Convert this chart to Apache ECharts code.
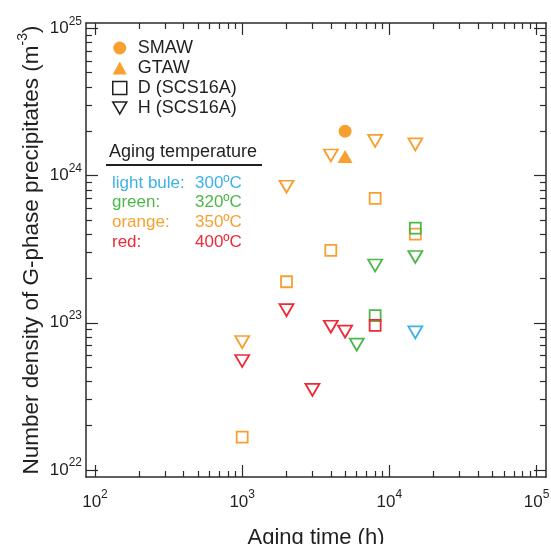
<!DOCTYPE html>
<html>
<head>
<meta charset="utf-8">
<script src="https://cdn.jsdelivr.net/npm/echarts@6/dist/echarts.min.js"></script>
<style>
  html, body { margin: 0; padding: 0; background: #fff; }
  #chart { width: 551px; height: 544px; }
</style>
</head>
<body>
<div id="chart"></div>
<script>
// 坐标范围（边框略超出整十年）
const xRange = [86.9, 115800]
const yRange = [8.96e21, 1.088e25]

// 主刻度
const xDecades = [1e2, 1e3, 1e4, 1e5]
const yDecades = [1e22, 1e23, 1e24, 1e25]

// 时效温度 -> 颜色
const tempColors = { 300: '#3eb1e8', 320: '#4cb848', 350: '#f7a030', 400: '#ee2a36' }
const tempNames = ['light bule:', 'green:', 'orange:', 'red:']
const tempValues = ['300ºC', '320ºC', '350ºC', '400ºC']
const tempKeys = [300, 320, 350, 400]

// 焊缝
const smawTime = [5000]
const smawDensity = [2.0e24]
const gtawTime = [5000]
const gtawDensity = [1.35e24]

// D (SCS16A)
const dTime = [1000, 2000, 4000, 8000, 15000, 15000, 8000, 8000]
const dDensity = [1.67e22, 1.9e23, 3.1e23, 7.0e23, 4.0e23, 4.4e23, 1.12e23, 9.6e22]
const dTemp = [350, 350, 350, 350, 350, 320, 320, 400]

// H (SCS16A)
const hTime = [1000, 2000, 4000, 8000, 15000, 6000, 8000, 15000, 1000, 2000, 3000, 4000, 5000, 15000]
const hDensity = [7.4e22, 8.4e23, 1.37e24, 1.72e24, 1.63e24, 7.1e22, 2.45e23, 2.8e23, 5.5e22, 1.22e23, 3.5e22, 9.4e22, 8.7e22, 8.6e22]
const hTemp = [350, 350, 350, 350, 350, 320, 320, 320, 400, 400, 400, 400, 400, 300]

const fontFamily = '"Liberation Sans", Arial, Helvetica, sans-serif'
const textColor = '#231f20'
const frameColor = '#2b2b2b'

// 次刻度 2..9（贴边的不画）
const minorTicks = (range) => {
  const out = []
  const e0 = Math.floor(Math.log10(range[0]))
  const e1 = Math.ceil(Math.log10(range[1]))
  for (let e = e0; e <= e1; e++) {
    for (let k = 2; k <= 9; k++) {
      const v = k * Math.pow(10, e)
      if (v > range[0] * 1.06 && v < range[1] / 1.06) out.push(v)
    }
  }
  return out
}

const expLabel = (v) => '{b|10}{s|' + Math.round(Math.log10(v)) + '}'
const labelRich = {
  b: { fontSize: 17, color: textColor, fontFamily },
  s: { fontSize: 12, color: textColor, fontFamily, padding: [0, 0, 14, 0] }
}

const makeAxis = (range, position, ticks, len, showLine, extra) => Object.assign({
  type: 'log',
  logBase: 10,
  min: range[0],
  max: range[1],
  position,
  axisLine: { show: showLine, onZero: false, lineStyle: { color: frameColor, width: 1.5 } },
  axisTick: { show: true, inside: true, length: len, customValues: ticks, lineStyle: { color: frameColor, width: 1.2 } },
  axisLabel: { show: false },
  splitLine: { show: false },
  minorTick: { show: false },
  nameMoveOverlap: false
}, extra || {})

const hollow = (times, dens, temps) => times.map((t, i) => ({
  value: [t, dens[i]],
  itemStyle: { borderColor: tempColors[temps[i]] }
}))

const chart = echarts.init(document.getElementById('chart'))

const option = {
  animation: false,
  grid: { left: 86, top: 23, width: 460, height: 454, containLabel: false, outerBoundsMode: 'none' },
  xAxis: [
    makeAxis(xRange, 'bottom', xDecades, 12, true, {
      name: 'Aging time (h)',
      nameLocation: 'middle',
      nameGap: 50,
      nameTextStyle: { fontSize: 22, color: textColor, fontFamily },
      axisLabel: { show: true, customValues: xDecades, margin: 12, formatter: expLabel, rich: labelRich }
    }),
    makeAxis(xRange, 'bottom', minorTicks(xRange), 6, false),
    makeAxis(xRange, 'top', xDecades, 12, true),
    makeAxis(xRange, 'top', minorTicks(xRange), 6, false)
  ],
  yAxis: [
    makeAxis(yRange, 'left', yDecades, 12, true, {
      name: '{t|Number density of G-phase precipitates (m}{s|-3}{t|)}',
      nameLocation: 'middle',
      nameGap: 39,
      nameTextStyle: {
        rich: {
          t: { fontSize: 22.5, color: textColor, fontFamily },
          s: { fontSize: 14, color: textColor, fontFamily, padding: [0, 0, 17, 0] }
        }
      },
      axisLabel: { show: true, customValues: yDecades, margin: 4, formatter: expLabel, rich: labelRich }
    }),
    makeAxis(yRange, 'left', minorTicks(yRange), 6, false),
    makeAxis(yRange, 'right', yDecades, 12, true),
    makeAxis(yRange, 'right', minorTicks(yRange), 6, false)
  ],
  legend: {
    left: 112,
    top: 39,
    padding: 0,
    orient: 'vertical',
    itemWidth: 14,
    itemHeight: 13,
    itemGap: 2,
    selectedMode: false,
    textStyle: { fontSize: 18, color: textColor, fontFamily, padding: [0, 0, 0, 6] },
    data: [
      { name: 'SMAW', icon: 'circle', itemStyle: { color: tempColors[350], borderWidth: 0, opacity: 1 } },
      { name: 'GTAW', icon: 'triangle', itemStyle: { color: tempColors[350], borderWidth: 0, opacity: 1 } },
      { name: 'D (SCS16A)', icon: 'rect', itemStyle: { color: 'transparent', borderColor: textColor, borderWidth: 1.5, opacity: 1 } },
      { name: 'H (SCS16A)', icon: 'path://M0,0L14,0L7,12Z', itemStyle: { color: 'transparent', borderColor: textColor, borderWidth: 1.5, opacity: 1 } }
    ]
  },
  graphic: [
    { type: 'text', x: 109, y: 152, style: { text: 'Aging temperature', fontSize: 18, fontFamily, fill: textColor, verticalAlign: 'middle' } },
    { type: 'line', shape: { x1: 106, y1: 165, x2: 262, y2: 165 }, style: { stroke: textColor, lineWidth: 2 } },
    ...tempNames.map((n, i) => ({
      type: 'text', x: 112, y: 183 + i * 19.7,
      style: { text: n, fontSize: 17, fontFamily, fill: tempColors[tempKeys[i]], verticalAlign: 'middle' }
    })),
    ...tempValues.map((n, i) => ({
      type: 'text', x: 195, y: 183 + i * 19.7,
      style: { text: n, fontSize: 17, fontFamily, fill: tempColors[tempKeys[i]], verticalAlign: 'middle' }
    }))
  ],
  series: [
    {
      name: 'SMAW',
      type: 'scatter',
      symbol: 'circle',
      symbolSize: 13,
      itemStyle: { color: tempColors[350], opacity: 1 },
      data: smawTime.map((t, i) => [t, smawDensity[i]])
    },
    {
      name: 'GTAW',
      type: 'scatter',
      symbol: 'triangle',
      symbolSize: [15, 13],
      itemStyle: { color: tempColors[350], opacity: 1 },
      data: gtawTime.map((t, i) => [t, gtawDensity[i]])
    },
    {
      name: 'D (SCS16A)',
      type: 'scatter',
      symbol: 'rect',
      symbolSize: 11,
      itemStyle: { color: 'transparent', borderWidth: 1.8, opacity: 1 },
      data: hollow(dTime, dDensity, dTemp)
    },
    {
      name: 'H (SCS16A)',
      type: 'scatter',
      symbol: 'triangle',
      symbolRotate: 180,
      symbolSize: [14, 12],
      itemStyle: { color: 'transparent', borderWidth: 1.8, opacity: 1 },
      data: hollow(hTime, hDensity, hTemp)
    }
  ]
}

chart.setOption(option)
</script>
</body>
</html>
